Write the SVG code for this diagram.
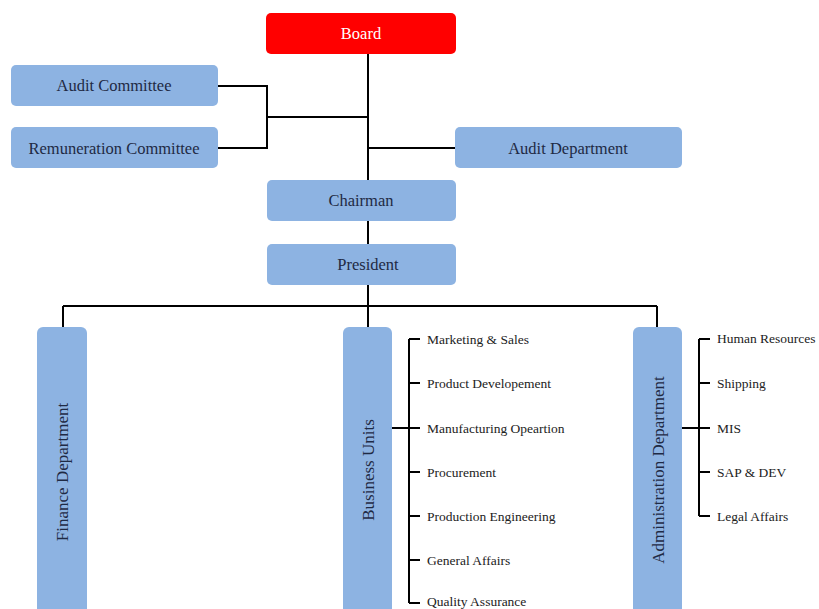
<svg xmlns="http://www.w3.org/2000/svg" width="819" height="609" viewBox="0 0 819 609">
<style>
.box{fill:#8db3e2;}
.red{fill:#ff0000;}
.lbl{font-family:"Liberation Serif","Times New Roman",serif;font-size:16.5px;fill:#1f2a44;text-anchor:middle;}
.wl{fill:#ffffff;}
.vl{font-family:"Liberation Serif","Times New Roman",serif;font-size:17px;fill:#1f2a44;text-anchor:middle;}
.it{font-family:"Liberation Serif","Times New Roman",serif;font-size:13.5px;fill:#222222;}
.ln{stroke:#000000;stroke-width:2;fill:none;}
</style>
<rect width="819" height="609" fill="#ffffff"/>
<g id="connectors">
<path class="ln" d="M368 54V180M218 86H267V148H218M267 117H368M368 148H455M368 221V244M368 285V327M63 306H657M63 306V327M657 306V327"/>
<path class="ln" d="M392 428H420M409 339V603M409 339H420M409 383H420M409 472H420M409 516H420M409 560H420M409 603H420"/>
<path class="ln" d="M682 428H710M699 339V516M699 339H710M699 383H710M699 472H710M699 516H710"/>
</g>
<g id="board"><rect class="red" x="266" y="13" width="190" height="41" rx="5"/><text class="lbl wl" x="361" y="39">Board</text></g>
<g id="audit-committee"><rect class="box" x="11" y="65" width="207" height="41" rx="5"/><text class="lbl" x="114" y="91">Audit Committee</text></g>
<g id="remuneration-committee"><rect class="box" x="11" y="127" width="207" height="41" rx="5"/><text class="lbl" x="114" y="154">Remuneration Committee</text></g>
<g id="audit-department"><rect class="box" x="455" y="127" width="227" height="41" rx="5"/><text class="lbl" x="568" y="154">Audit Department</text></g>
<g id="chairman"><rect class="box" x="267" y="180" width="189" height="41" rx="5"/><text class="lbl" x="361" y="206">Chairman</text></g>
<g id="president"><rect class="box" x="267" y="244" width="189" height="41" rx="5"/><text class="lbl" x="368" y="270">President</text></g>
<g id="finance-department"><rect class="box" x="37" y="327" width="50" height="300" rx="6"/><text class="vl" transform="translate(68 472) rotate(-90)">Finance Department</text></g>
<g id="business-units"><rect class="box" x="343" y="327" width="49" height="300" rx="6"/><text class="vl" transform="translate(374 470) rotate(-90)">Business Units</text></g>
<g id="administration-department"><rect class="box" x="633" y="327" width="49" height="300" rx="6"/><text class="vl" transform="translate(664 470) rotate(-90)">Administration Department</text></g>
<g id="bu-items">
<text class="it" x="427" y="344">Marketing &amp; Sales</text>
<text class="it" x="427" y="388">Product Developement</text>
<text class="it" x="427" y="433">Manufacturing Opeartion</text>
<text class="it" x="427" y="477">Procurement</text>
<text class="it" x="427" y="521">Production Engineering</text>
<text class="it" x="427" y="565">General  Affairs</text>
<text class="it" x="427" y="606">Quality Assurance</text>
</g>
<g id="admin-items">
<text class="it" x="717" y="343">Human Resources</text>
<text class="it" x="717" y="388">Shipping</text>
<text class="it" x="717" y="433">MIS</text>
<text class="it" x="717" y="477">SAP &amp; DEV</text>
<text class="it" x="717" y="521">Legal Affairs</text>
</g>
</svg>
